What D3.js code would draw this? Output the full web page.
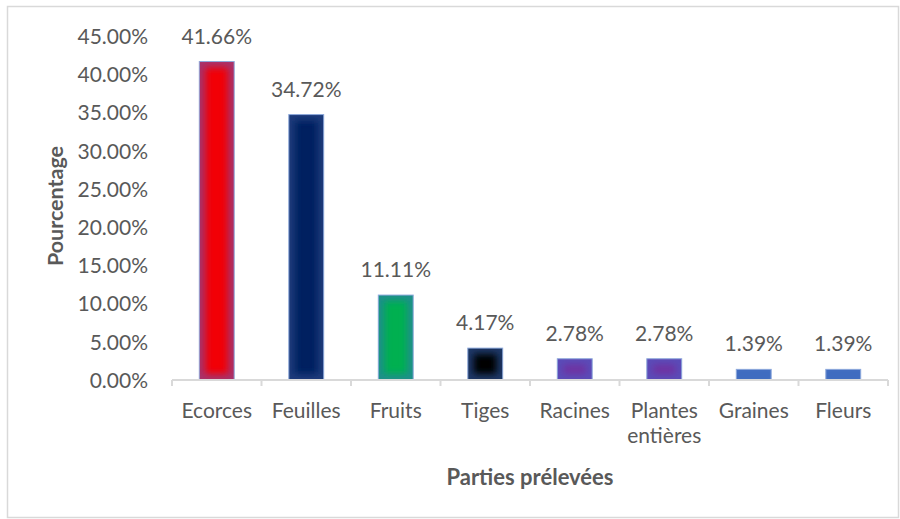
<!DOCTYPE html>
<html>
<head>
<meta charset="utf-8">
<script src="https://cdn.jsdelivr.net/npm/d3@7"></script>
<style>
  html, body { margin: 0; padding: 0; background: #ffffff; }
  svg { display: block; }
  text { font-family: Lato, "Open Sans", sans-serif; fill: #595959; }
</style>
</head>
<body>
<svg id="chart" width="900" height="519"></svg>
<script>
// Parties de plantes prélevées (pourcentage)
const categories = ["Ecorces", "Feuilles", "Fruits", "Tiges", "Racines", "Plantes entières", "Graines", "Fleurs"];
const values = [41.66, 34.72, 11.11, 4.17, 2.78, 2.78, 1.39, 1.39];
const valueLabels = ["41.66%", "34.72%", "11.11%", "4.17%", "2.78%", "2.78%", "1.39%", "1.39%"];
const yTicks = [0, 5, 10, 15, 20, 25, 30, 35, 40, 45];
const centerColors = ["#f20006", "#002060", "#00b050", "#000000", "#7030a0", "#7030a0", "#9dbbea", "#9dbbea"];
const edgeColors = ["#a8336a", "#1f3b7a", "#1e8f8a", "#1f3868", "#5a4cb8", "#5a4cb8", "#3f6cc0", "#3f6cc0"];

const svg = d3.select("#chart");
const W = 900, H = 519;
const fontSize = 21;

// outer frame
svg.append("rect")
  .attr("x", 7.5).attr("y", 6.5)
  .attr("width", W - 9).attr("height", H - 8)
  .attr("fill", "none").attr("stroke", "#d9d9d9").attr("stroke-width", 1.5);

const plotLeft = 172, plotRight = 888, plotTop = 36, plotBottom = 380;

const x = d3.scaleBand().domain(categories).range([plotLeft, plotRight]).paddingInner(0.61).paddingOuter(0.305);
const xOuter = d3.scaleBand().domain(categories).range([plotLeft, plotRight]);
const y = d3.scaleLinear().domain([0, 45]).range([plotBottom, plotTop]);

// soft inner glow for the bars
const defs = svg.append("defs");
const blur = defs.append("filter").attr("id", "soft")
  .attr("x", "-50%").attr("y", "-50%").attr("width", "200%").attr("height", "200%");
blur.append("feGaussianBlur").attr("stdDeviation", 3.5);

values.forEach((v, i) => {
  defs.append("clipPath").attr("id", "clip" + i)
    .append("rect")
    .attr("x", x(categories[i]))
    .attr("y", y(v))
    .attr("width", x.bandwidth())
    .attr("height", y(0) - y(v));
});

// y axis labels (no axis line)
const yAxis = d3.axisLeft(y).tickValues(yTicks).tickSize(0).tickPadding(0)
  .tickFormat(d => d.toFixed(2) + "%");
const yg = svg.append("g").attr("transform", `translate(148,0)`).call(yAxis);
yg.select(".domain").remove();
yg.selectAll("text")
  .attr("font-size", fontSize).attr("dy", "0.35em")
  .style("font-family", "Lato, 'Open Sans', sans-serif").style("fill", "#595959");

// bars
const bars = svg.append("g").selectAll("g")
  .data(values)
  .join("g")
  .attr("clip-path", (d, i) => `url(#clip${i})`);

bars.append("rect")
  .attr("x", (d, i) => x(categories[i]))
  .attr("y", d => y(d))
  .attr("width", x.bandwidth())
  .attr("height", d => y(0) - y(d))
  .attr("fill", (d, i) => centerColors[i]);

bars.append("rect")
  .attr("x", (d, i) => x(categories[i]))
  .attr("y", d => y(d))
  .attr("width", x.bandwidth())
  .attr("height", d => y(0) - y(d))
  .attr("fill", "none")
  .attr("stroke", (d, i) => edgeColors[i])
  .attr("stroke-width", 12)
  .attr("filter", "url(#soft)");

svg.append("g").selectAll("rect")
  .data(values)
  .join("rect")
  .attr("x", (d, i) => x(categories[i]))
  .attr("y", d => y(d))
  .attr("width", x.bandwidth())
  .attr("height", d => y(0) - y(d))
  .attr("fill", "none")
  .attr("stroke", "#8faadc")
  .attr("stroke-width", 1);

// x axis line and ticks
const xg = svg.append("g");
xg.append("line")
  .attr("x1", plotLeft).attr("x2", plotRight)
  .attr("y1", plotBottom).attr("y2", plotBottom)
  .attr("stroke", "#d9d9d9").attr("stroke-width", 2);
const tickPos = [plotLeft].concat(categories.map(c => xOuter(c) + xOuter.bandwidth()));
xg.selectAll("line.tick")
  .data(tickPos)
  .join("line")
  .attr("class", "tick")
  .attr("x1", d => d).attr("x2", d => d)
  .attr("y1", plotBottom).attr("y2", plotBottom + 6)
  .attr("stroke", "#d9d9d9").attr("stroke-width", 2);

// category labels
const catG = svg.append("g");
categories.forEach((c, i) => {
  const cx = xOuter(c) + xOuter.bandwidth() / 2;
  const words = c === "Plantes entières" ? ["Plantes", "entières"] : [c];
  const t = catG.append("text")
    .attr("x", cx).attr("y", 418)
    .attr("text-anchor", "middle").attr("font-size", fontSize);
  words.forEach((w, k) => {
    t.append("tspan").attr("x", cx).attr("dy", k === 0 ? 0 : 25).text(w);
  });
});

// value labels
svg.append("g").selectAll("text")
  .data(values)
  .join("text")
  .attr("x", (d, i) => xOuter(categories[i]) + xOuter.bandwidth() / 2)
  .attr("y", d => y(d) - 18)
  .attr("text-anchor", "middle")
  .attr("font-size", fontSize)
  .text((d, i) => valueLabels[i]);

// axis titles
svg.append("text")
  .attr("transform", `translate(63,${(plotTop + plotBottom) / 2 - 2}) rotate(-90)`)
  .attr("text-anchor", "middle")
  .attr("font-size", 21.5).attr("font-weight", "bold")
  .text("Pourcentage");

svg.append("text")
  .attr("x", (plotLeft + plotRight) / 2).attr("y", 485)
  .attr("text-anchor", "middle")
  .attr("font-size", 22).attr("font-weight", "bold")
  .text("Parties prélevées");
</script>
</body>
</html>
